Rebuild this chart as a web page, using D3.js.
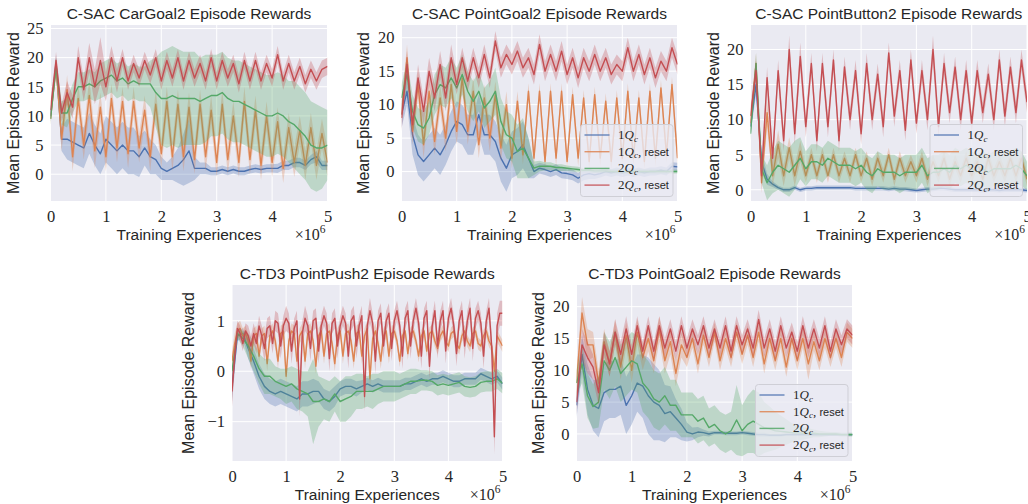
<!DOCTYPE html>
<html><head><meta charset="utf-8">
<script src="https://cdn.jsdelivr.net/npm/d3@7"></script>
<style>body{margin:0;background:#fff}svg{display:block}</style>
</head><body><svg id="c" width="1028" height="504"></svg>
<script>
// ---------- shared labels / ticks ----------
const xTicks = [0,1,2,3,4,5];
const seriesLabels = ["1Q_c","1Q_c, reset","2Q_c","2Q_c, reset"];
const titles = ["C-SAC CarGoal2 Episode Rewards","C-SAC PointGoal2 Episode Rewards","C-SAC PointButton2 Episode Rewards","C-TD3 PointPush2 Episode Rewards","C-TD3 PointGoal2 Episode Rewards"];
const xLabel = "Training Experiences";
const yLabel = "Mean Episode Reward";
const yTicks1 = [0,5,10,15,20,25];
const yTicks2 = [0,5,10,15,20];
const yTicks3 = [0,5,10,15,20];
const yTicks4 = [-1,0,1];
const yTicks5 = [0,5,10,15,20];

// ---------- Panel 1: C-SAC CarGoal2 (x step 0.1M) ----------
const cg_1Qc = [10,19,6,6,5.5,5,4.5,7,5,3.5, 6,5,4,5,4,4,3,4.5,3,2.5, 1,0.5,1,1.5,2.5,4,1,1,1,0.5, 0.5,0.8,0.5,0.8,0.5,0.5,0.8,1,0.8,1, 1,1,1.5,1.5,2,2,1.5,2.5,3,1.5, 1.5];
const cg_1Qc_ci = [1,1.5,2,3.5,3.5,3.5,3.5,3.5,3.5,3.5, 4,4,4,4,4,4,3.5,3,3,2.5, 2,1.5,2,3,4.5,5.5,2,1,1,0.7, 0.7,0.7,0.7,0.7,0.7,0.7,0.7,0.7,0.7,0.7, 0.7,0.8,0.8,0.8,0.8,0.8,0.8,0.8,1,0.8, 0.8];
const cg_1QcR = [9.5,18.5,6,14.5,3,13,5,13.5,4,11.5, 3,13,4.5,12.5,3.5,12.5,4.5,11,3,12, 3.5,12.5,3,12,3,11.5,2.5,12,3,11, 2,12,2.5,10,2,12.5,2.5,11,1.5,10, 2,9,1,8,2,7.5,1.5,8,1.5,7, 2];
const cg_1QcR_ci = [1,1.5,2,2.5,2.5,2.5,2.5,3,3,2.5, 2.5,2.5,2.5,2.5,2.5,2.5,2.5,2.5,2.5,2.5, 2.5,2.5,2.5,2.5,2.5,2.5,2.5,2.5,2.5,2.5, 2.5,2.5,2.5,2.5,2.5,2.5,2.5,2.5,2.5,2.5, 2.5,2.5,2.5,2.5,2.5,2.5,2.5,2.5,2.5,2.5, 2.5];
const cg_2Qc = [9.5,18.5,10.5,10.5,13,15,15,15.5,15,16, 16.5,17,16,16.5,15.5,16,15.5,15.5,15.5,14, 13,13,13.5,13,13,13,13,12.5,13,13.5, 13.5,14,13,12.5,12.5,12,11.5,11,10.5,10, 10,10.5,10,9,8.5,7.5,6.5,5,4.5,4.5, 5];
const cg_2Qc_ci = [1,1.5,2,2.5,2.5,2.5,2.5,2.5,2.5,3, 3,3,3,3,3,3,3,3,4,6, 8,8.5,8.5,8.5,8,8,8,7.5,7.5,7, 7,7,7,7,7,7,7,7,7,7, 7,7,7,7,7.5,7.5,7.5,7.5,7.5,7, 6];
const cg_2QcR = [11,19.5,10.5,14,11.5,20,14.5,20,15,19.5, 15,20,16,20,16,19,16.5,19.5,17,20, 16,19.5,16.5,20,16,19.5,16.5,19,16,20, 16,19.5,16.5,19,15.5,19.5,16,19.5,16,19, 16.5,20.5,16,19,16,18.5,15.5,18,16,18, 18.5];
const cg_2QcR_ci = [1.5,1.5,1.5,2,2,2,2,2.5,3,4, 2.5,2,2,1.5,1.5,1.5,1.5,1.5,1.5,1.5, 1.5,1.5,1.5,1.5,1.5,1.5,1.5,1.5,1.5,1.5, 1.5,1.5,1.5,1.5,1.5,1.5,1.5,1.5,1.5,1.5, 1.5,1.5,1.5,1.5,1.5,1.5,1.5,1.5,1.5,1.5, 1.5];

// ---------- Panel 2: C-SAC PointGoal2 ----------
const pg_1Qc = [8.5,12,5.5,2.5,1.5,2.5,3.5,2.5,4,6, 7.5,7,5.5,5.5,8.5,5.5,5.5,4.5,2,0.5, 2.5,3,4,2,0,0.5,0.3,0,0.3,-0.2, -0.3,-0.5,-1,-0.5,-0.3,-0.5,-0.3,0,-0.2,0, -0.2,0,-0.2,0,-0.2,0,0,0.2,0,0.8, 0.7];
const pg_1Qc_ci = [2,2,3,3,3,3,3,3,3,3, 3,3,3,3,3,3,3,3,3.5,3.5, 3.5,3.5,3.5,3,1,0.8,0.8,0.8,0.8,0.8, 0.8,0.8,0.8,0.8,0.8,0.6,0.6,0.6,0.6,0.6, 0.6,0.6,0.6,0.6,0.6,0.6,0.6,0.6,0.6,0.6, 0.6];
const pg_1QcR = [8.5,17,6,13,4,12,4.5,11,5,13, 6,14,6,12,4,11,5,11.5,3.5,10, 2,10.5,2.5,12,2,12,1.5,12,2,12, 1.5,11.5,2,11,1.5,11.5,2,10.5,1.5,11, 2,12,2,11,1.5,12,2,12.5,2.5,13, 2];
const pg_1QcR_ci = [1.5,2,2,2,2,2,2,2,2,2, 2,2,2,2,2,2,2,2,2,2, 1.5,1.5,1.5,1.2,1.2,1.2,1.2,1.2,1.2,1.2, 1.2,1.2,1.2,1.2,1.2,1.2,1.2,1.2,1.2,1.2, 1.2,1.2,1.2,1.2,1.2,1.2,1.2,1.2,1.2,1.2, 1.2];
const pg_2Qc = [11,14.5,9,7,6.5,8,11.5,13,12.5,14, 12.5,14.5,12,10.5,12,9.5,10.5,12,7.5,5.5, 5,3,3.5,2,0.5,0.8,0.8,0.8,0.6,0.6, 0.5,0.4,0.3,0.2,0.2,0.1,0.1,0.1,0,0, 0,0,0,0,0,0,0,0,0,0, 0];
const pg_2Qc_ci = [2,2,2.5,2.5,2.5,2.5,3,3,3,3, 3,3,3,3,3,3,3,3.5,3.5,3.5, 3.5,4,4.5,3,1,0.8,0.6,0.6,0.5,0.5, 0.4,0.4,0.4,0.3,0.3,0.3,0.3,0.3,0.3,0.3, 0.3,0.3,0.3,0.3,0.3,0.3,0.3,0.3,0.3,0.3, 0.3];
const pg_2QcR = [8,16,7,14,9,15,11,16,11,17, 13,17,13.5,17,14,17.5,14,19.5,15.5,17.5, 16,18,15.5,17,14.5,19,15,17.5,15,18, 14.5,17,14,17,15,17.5,15,17,14.5,16, 15,18.5,15,17.5,14.5,17,14,16.5,15,18.5, 16];
const pg_2QcR_ci = [2,2,2,2,2,2,2,2,2,2, 1.5,1.5,1.5,1.5,1.5,1.5,1.5,1.5,1.5,1.5, 1.5,1.5,1.5,1.5,1.5,1.5,1.5,1.5,1.5,1.5, 1.5,1.5,1.5,1.5,1.5,1.5,1.5,1.5,1.5,1.5, 1.5,1.5,1.5,1.5,1.5,1.5,1.5,1.5,1.5,1.5, 1.5];

// ---------- Panel 3: C-SAC PointButton2 ----------
const pb_1Qc = [9,15,4,1.5,0.8,0.3,0,0,0.3,0, 0.2,0.2,0.3,0.3,0.3,0.3,0.3,0.3,0.3,0.2, 0.2,0.2,0.2,0.2,0.2,0.1,0.2,0.1,0.1,0, -0.1,0,0.1,0.1,0.2,0.2,0.1,0,0,0, 0,0,-0.1,0,0,-0.1,0,0,0,0, -0.1];
const pb_1Qc_ci = [1,1.5,1.5,0.8,0.4,0.3,0.3,0.3,0.3,0.3, 0.3,0.3,0.3,0.3,0.3,0.3,0.3,0.3,0.3,0.3, 0.3,0.3,0.3,0.3,0.3,0.3,0.3,0.3,0.3,0.3, 0.3,0.3,0.3,0.3,0.3,0.3,0.3,0.3,0.3,0.3, 0.3,0.3,0.3,0.3,0.3,0.3,0.3,0.3,0.3,0.3, 0.3];
const pb_1QcR = [9.5,18,1,11,2,6.5,2,6,2,5.5, 2,5,2,5,2,5,2,4.5,2,5, 2,4.5,1.5,4.5,2,5,1.5,4.5,2,4, 2,4.5,1.5,4,2,4.5,1.5,4,2,4.5, 2,4,1.5,4.5,2,4,2,4.5,2,4.5, 1.5];
const pb_1QcR_ci = [1,1.5,1.5,2,1.5,2,1.5,1.5,1.5,1.5, 1,1,1,1,1,1,1,1,1,1, 1,1,1,1,1,1,1,1,1,1, 1,1,1,1,1,1,1,1,1,1, 1,1,1,1,1,1,1,1,1,1, 1];
const pb_2Qc = [8,18,3,1,2.5,3.5,3,2.5,3.5,4.5, 3,4,4,3.5,4.5,4,3.5,3.5,3.5,3, 3.5,2.5,2,3,2.5,2.5,2.5,2,2.5,2.5, 2.5,3.5,2,2.5,2.5,3,2.5,3.5,3,3.5, 3,2.5,3,2.5,3,3,3,3,3.5,3, 2];
const pb_2Qc_ci = [1,1.5,2,2.5,3,3.5,3.5,3.5,3.5,3, 2.5,2.5,2.5,2.5,2.5,2.5,2.5,2.5,2.5,2.5, 2.5,2.5,2.5,2.5,2.5,2.5,2.5,2.5,2.5,2.5, 2.5,2.5,2.5,2.5,2.5,2.5,2.5,2.5,2.5,2.5, 2.5,2.5,2.5,2.5,2.5,2.5,2.5,2.5,2.5,2.5, 2];
const pb_2QcR = [10.5,17,2,16,4.5,17,7,20,8,19, 9,18,7,18,9,18.5,7,17.5,10,17, 8,18,10,16.5,9,19.5,10.5,17,8.5,18.5, 9.5,17,10,20,9,18,11,17.5,10,17, 9.5,17,11,16.5,10,18.5,10.5,17.5,11,18.5, 12.5];
const pb_2QcR_ci = [1.5,1.5,1.5,1.5,1.5,1.5,1.5,2,1.5,2, 1.5,1.5,1.5,1.5,1.5,1.5,1.5,1.5,1.5,1.5, 1.5,1.5,1.5,1.5,1.5,1.5,1.5,1.5,1.5,1.5, 1.5,1.5,1.5,2,1.5,1.5,1.5,1.5,1.5,1.5, 1.5,1.5,1.5,1.5,1.5,1.5,1.5,1.5,1.5,1.5, 1.5];

// ---------- Panel 4: C-TD3 PointPush2 (red/orange x step 0.05M) ----------
const pp_1Qc = [-0.3,0.7,0.75,0.45,0.2,-0.1,-0.3,-0.4,-0.45,-0.4, -0.45,-0.5,-0.55,-0.45,-0.45,-0.4,-0.4,-0.55,-0.6,-0.5, -0.35,-0.3,-0.3,-0.35,-0.3,-0.25,-0.3,-0.25,-0.3,-0.3, -0.3,-0.3,-0.25,-0.25,-0.2,-0.15,-0.2,-0.15,-0.15,-0.1, -0.15,-0.2,-0.2,-0.15,-0.15,-0.15,-0.05,-0.1,-0.15,-0.1, -0.25];
const pp_1Qc_ci = [0.3,0.1,0.1,0.2,0.25,0.25,0.25,0.25,0.25,0.25, 0.25,0.25,0.25,0.25,0.25,0.25,0.2,0.2,0.2,0.2, 0.15,0.15,0.15,0.15,0.12,0.12,0.12,0.12,0.12,0.12, 0.12,0.12,0.12,0.12,0.12,0.12,0.12,0.12,0.12,0.12, 0.12,0.12,0.12,0.12,0.12,0.12,0.12,0.12,0.12,0.12, 0.12];
const pp_1QcR = [0.2,0.55,0.8,0.85,0.7,0.75,0.6,0.2,0.7,0.75, 0.3,0.7,0.75,0.15,0.7,0.8,0.6,0.2,0.75,0.8, -0.1,0.6,0.8,0.75,0.2,0.7,0.8,0.2,0.75,0.8, 0.6,0.1,0.7,0.8,0.3,0.75,0.8,0.55,0.15,0.7, 0.8,0.3,0.75,0.8,0.6,0.2,0.75,0.8,0.3,0.7, 0.85,-0.15,0.65,0.8,0.55,0.2,0.7,0.8,0.3,0.75, 0.8,0.6,0.2,0.7,0.8,0.35,0.75,0.8,0.6,0.3, 0.7,0.8,0.4,0.75,0.8,0.6,0.45,0.7,0.8,0.6, 0.5,0.75,0.8,0.55,0.45,0.7,0.8,0.6,0.5,0.75, 0.8,0.55,0.5,0.7,0.8,0.6,0.5,0.0,0.7,0.6, 0.5];
const pp_1QcR_ci = [0.2,0.2,0.15,0.15,0.15,0.15,0.15,0.15,0.15,0.15, 0.15,0.15,0.15,0.15,0.15,0.15,0.15,0.15,0.15,0.15, 0.2,0.15,0.15,0.15,0.15,0.15,0.15,0.15,0.15,0.15, 0.15,0.15,0.15,0.15,0.15,0.15,0.15,0.15,0.15,0.15, 0.15,0.15,0.15,0.15,0.15,0.15,0.15,0.15,0.15,0.15, 0.15,0.2,0.15,0.15,0.15,0.15,0.15,0.15,0.15,0.15, 0.12,0.12,0.12,0.12,0.12,0.12,0.12,0.12,0.12,0.12, 0.12,0.12,0.12,0.12,0.12,0.12,0.12,0.12,0.12,0.12, 0.12,0.12,0.12,0.12,0.12,0.12,0.12,0.12,0.12,0.12, 0.12,0.12,0.12,0.12,0.12,0.12,0.12,0.2,0.12,0.12, 0.12];
const pp_2Qc = [0,0.75,0.65,0.5,0.3,0.05,-0.1,-0.1,-0.2,-0.25, -0.3,-0.25,-0.35,-0.4,-0.45,-0.6,-0.6,-0.55,-0.6,-0.45, -0.6,-0.55,-0.5,-0.4,-0.4,-0.4,-0.4,-0.35,-0.3,-0.3, -0.3,-0.3,-0.25,-0.2,-0.2,-0.18,-0.18,-0.2,-0.28,-0.25, -0.28,-0.25,-0.22,-0.3,-0.32,-0.3,-0.22,-0.2,-0.2,-0.15, -0.24];
const pp_2Qc_ci = [0.1,0.1,0.15,0.25,0.3,0.3,0.35,0.35,0.3,0.3, 0.35,0.35,0.4,0.4,0.45,0.85,0.5,0.4,0.4,0.35, 0.4,0.45,0.4,0.35,0.35,0.3,0.35,0.3,0.3,0.3, 0.3,0.25,0.25,0.25,0.25,0.2,0.2,0.2,0.2,0.2, 0.2,0.2,0.2,0.2,0.2,0.2,0.2,0.2,0.2,0.2, 0.2];
const pp_2QcR = [-0.4,0.3,0.85,0.75,0.55,0.8,0.7,0.5,0.75,0.55, 0.9,0.7,0.45,0.85,0.9,0.55,1.0,0.95,0.5,0.9, 1.05,0.95,0.4,0.85,1.0,-0.55,0.75,1.05,0.9,0.45, 1.0,1.05,0.4,0.9,1.1,0.95,0.25,0.95,1.05,0.5, 0.9,1.1,0.95,0.3,1.0,1.1,0.5,0.9,1.1,-0.5, 0.9,1.2,0.95,0.2,1.0,1.15,0.5,1.0,1.15,0.45, 1.0,1.2,0.9,0.3,1.05,1.2,0.5,1.0,1.25,0.95, 0.3,1.05,1.2,0.1,0.9,1.2,0.5,1.0,1.2,0.4, 1.05,1.25,0.9,0.35,1.0,1.2,0.5,1.0,1.25,0.45, 1.05,1.2,0.95,0.3,1.0,1.25,0.5,-1.3,0.9,1.15, 1.15];
const pp_2QcR_ci = [0.3,0.25,0.15,0.15,0.15,0.15,0.2,0.2,0.2,0.2, 0.2,0.2,0.25,0.2,0.2,0.2,0.2,0.2,0.25,0.2, 0.25,0.2,0.25,0.2,0.2,0.35,0.25,0.25,0.2,0.25, 0.2,0.2,0.25,0.2,0.2,0.2,0.25,0.2,0.2,0.25, 0.2,0.2,0.2,0.25,0.2,0.2,0.25,0.2,0.2,0.3, 0.2,0.25,0.2,0.25,0.2,0.2,0.25,0.2,0.2,0.25, 0.2,0.2,0.2,0.25,0.2,0.2,0.25,0.2,0.2,0.2, 0.25,0.2,0.2,0.25,0.2,0.2,0.25,0.2,0.2,0.25, 0.2,0.2,0.2,0.25,0.2,0.2,0.25,0.2,0.2,0.25, 0.2,0.2,0.2,0.25,0.2,0.2,0.25,0.35,0.25,0.25, 0.25];

// ---------- Panel 5: C-TD3 PointGoal2 ----------
const tg_1Qc = [4.5,12.5,7,4.5,4,6.5,7,7,7.5,4.5, 6,8,7.5,6,5,4.5,3.2,3.5,2.5,1.5, 0.3,0,0.3,0.2,0,0.2,0.2,0.1,0.1,0.1, 0.2,0.1,0,-0.1,-0.1,-0.2,-0.2,-0.2,-0.1,-0.1, -0.1,-0.1,-0.1,-0.1,-0.1,-0.1,-0.1,-0.1,-0.1,-0.1, -0.1];
const tg_1Qc_ci = [2,3,4,4,4.5,4.5,4.5,4.5,4.5,4.5, 4.5,4.5,5,6,6,5.5,4.5,4,3,2.5, 1.5,1,0.8,0.5,0.4,0.3,0.3,0.3,0.3,0.3, 0.3,0.3,0.3,0.3,0.3,0.2,0.2,0.2,0.2,0.2, 0.2,0.2,0.2,0.2,0.2,0.2,0.2,0.2,0.2,0.2, 0.2];
const tg_1QcR = [8,19,14,14,8,14.5,11,16,10.5,15.5, 10,16,12,15,11.5,16.5,11.5,14.5,9.5,14, 12,15,11,15.5,12,16,11.5,15,12,16, 12.5,15.5,12,16,11,15,11.5,15,10.5,15, 11.5,15,11,14.5,11.5,15,12,15,12,16, 15];
const tg_1QcR_ci = [2,2.5,2.5,2,2,2,2,2,2,2, 2,2,2,2,2,2,2,2,2,2, 1.5,1.5,1.5,1.5,1.5,1.5,1.5,1.5,1.5,1.5, 1.5,1.5,1.5,1.5,1.5,1.5,1.5,1.5,1.5,1.5, 1.5,1.5,2.5,1.5,1.5,1.5,1.5,1.5,1.5,1.5, 1.5];
const tg_2Qc = [8,11,6,4.3,5,11.5,10,12,9.5,10.5, 11.5,11,8,7,5.5,5,6,4.5,4.5,3, 3,3,2,2.5,1,1.5,0.5,0,0.5,2.2, 0.5,1.5,2,1.5,1,0.8,0.5,0.4,0.3,0.2, 0.2,0.1,0.1,0.1,0,0,0,0,-0.1,-0.1, -0.1];
const tg_2Qc_ci = [2,3,3.5,3.5,4,4.5,4.5,4.5,4.5,4.5, 4.5,4.5,4.5,4.5,4.5,4.5,4.5,4,4,3.5, 3.5,3.5,3.5,3.5,3,3,3,3,3,5.5, 4,4.5,5,5,4,3.5,3,2.5,2,1.5, 1.2,1,0.8,0.6,0.5,0.4,0.3,0.3,0.3,0.3, 0.3];
const tg_2QcR = [5,14,12,10.5,6.5,14,11,16,12.5,16.5, 12.5,17,13,17,13,17,13.5,16.5,13,17, 13.5,16.5,14,17,13.5,16.5,13.5,17,13,17, 14,16.5,13.5,18,13.5,16.5,13,17,13.5,16, 13,17,13.5,16.5,13.5,17,13,16.5,14,16.5, 15.5];
const tg_2QcR_ci = [2,2.5,2.5,2,2,2,2,2,2,2, 1.5,1.5,1.5,1.5,1.5,1.5,1.5,1.5,1.5,1.5, 1.5,1.5,1.5,1.5,1.5,1.5,1.5,1.5,1.5,1.5, 1.5,1.5,1.5,1.5,1.5,1.5,1.5,1.5,1.5,1.5, 1.5,1.5,1.5,1.5,1.5,1.5,1.5,1.5,1.5,1.5, 1.5];

// ---------- rendering ----------
const COLORS = ["#4C72B0","#DD8452","#55A868","#C44E52"];
const SANS = "'Liberation Sans', Arial, sans-serif";
const SERIF = "'Liberation Serif', 'DejaVu Serif', serif";
const TXT = "#262626";

const panels = [
  {id:1, title:titles[0], left:50.5, right:327.5, top:25, bottom:201, ydom:[-4.6,25.6], yticks:yTicks1, ylabX:19,
   series:[[cg_1Qc,cg_1Qc_ci],[cg_1QcR,cg_1QcR_ci],[cg_2Qc,cg_2Qc_ci],[cg_2QcR,cg_2QcR_ci]], legend:false},
  {id:2, title:titles[1], left:401.5, right:677.5, top:25, bottom:201, ydom:[-4.4,21.9], yticks:yTicks2, ylabX:369,
   series:[[pg_1Qc,pg_1Qc_ci],[pg_1QcR,pg_1QcR_ci],[pg_2Qc,pg_2Qc_ci],[pg_2QcR,pg_2QcR_ci]], legend:true},
  {id:3, title:titles[2], left:750.5, right:1027, top:25, bottom:201, ydom:[-1.6,23.5], yticks:yTicks3, ylabX:719,
   series:[[pb_1Qc,pb_1Qc_ci],[pb_1QcR,pb_1QcR_ci],[pb_2Qc,pb_2Qc_ci],[pb_2QcR,pb_2QcR_ci]], legend:true},
  {id:4, title:titles[3], left:232, right:502.5, top:285, bottom:461, ydom:[-1.78,1.71], yticks:yTicks4, ylabX:194,
   series:[[pp_1Qc,pp_1Qc_ci],[pp_1QcR,pp_1QcR_ci],[pp_2Qc,pp_2Qc_ci],[pp_2QcR,pp_2QcR_ci]], legend:false},
  {id:5, title:titles[4], left:576.5, right:852.5, top:285, bottom:461, ydom:[-4.25,23.4], yticks:yTicks5, ylabX:544,
   series:[[tg_1Qc,tg_1Qc_ci],[tg_1QcR,tg_1QcR_ci],[tg_2Qc,tg_2Qc_ci],[tg_2QcR,tg_2QcR_ci]], legend:true}
];

const svg = d3.select("#c");
svg.append("rect").attr("width",1028).attr("height",504).attr("fill","#fff");
const defs = svg.append("defs");

panels.forEach(p => {
  p.series.forEach((s,k)=>{ if(s[0].length!==s[1].length) console.error("length mismatch panel",p.id,"series",k,s[0].length,s[1].length); });
  const x = d3.scaleLinear().domain([0,5]).range([p.left,p.right]);
  const y = d3.scaleLinear().domain(p.ydom).range([p.bottom,p.top]);
  const g = svg.append("g");
  g.append("rect").attr("x",p.left).attr("y",p.top).attr("width",p.right-p.left).attr("height",p.bottom-p.top).attr("fill","#EAEAF2");
  // grid
  g.append("g").selectAll("line").data(xTicks).join("line")
    .attr("x1",d=>x(d)).attr("x2",d=>x(d)).attr("y1",p.top).attr("y2",p.bottom)
    .attr("stroke","#fff").attr("stroke-width",1);
  g.append("g").selectAll("line").data(p.yticks).join("line")
    .attr("x1",p.left).attr("x2",p.right).attr("y1",d=>y(d)).attr("y2",d=>y(d))
    .attr("stroke","#fff").attr("stroke-width",1);
  // clip
  defs.append("clipPath").attr("id","clip"+p.id).append("rect")
    .attr("x",p.left).attr("y",p.top).attr("width",p.right-p.left).attr("height",p.bottom-p.top);
  const plot = g.append("g").attr("clip-path",`url(#clip${p.id})`);
  p.series.forEach((s,k)=>{
    const vals = s[0], ci = s[1], n = vals.length;
    const pts = vals.map((v,i)=>({x:5*i/(n-1), m:v, b:ci[i]}));
    plot.append("path").datum(pts)
      .attr("d", d3.area().x(d=>x(d.x)).y0(d=>y(d.m-d.b)).y1(d=>y(d.m+d.b)))
      .attr("fill",COLORS[k]).attr("fill-opacity",0.3).attr("stroke","none");
    plot.append("path").datum(pts)
      .attr("d", d3.line().x(d=>x(d.x)).y(d=>y(d.m)))
      .attr("fill","none").attr("stroke",COLORS[k]).attr("stroke-width",1.4).attr("stroke-linejoin","round");
  });
  // axes (no ticks, no spines)
  const ax = g.append("g").attr("transform",`translate(0,${p.bottom})`)
    .call(d3.axisBottom(x).tickValues(xTicks).tickSize(0).tickPadding(9.5).tickFormat(d3.format("d")));
  const ay = g.append("g").attr("transform",`translate(${p.left},0)`)
    .call(d3.axisLeft(y).tickValues(p.yticks).tickSize(0).tickPadding(7).tickFormat(d3.format("d")));
  [ax,ay].forEach(a=>{ a.select(".domain").remove();
    a.selectAll("text").attr("font-family",SERIF).attr("font-size",16.5).attr("fill",TXT); });
  const cx = (p.left+p.right)/2, cy = (p.top+p.bottom)/2;
  // title
  g.append("text").attr("x",cx).attr("y",p.top-6).attr("text-anchor","middle")
    .attr("font-family",SANS).attr("font-size",15.5).attr("fill",TXT).text(p.title);
  // x label
  g.append("text").attr("x",cx).attr("y",p.bottom+39).attr("text-anchor","middle")
    .attr("font-family",SANS).attr("font-size",15.5).attr("fill",TXT).text(xLabel);
  // multiplier
  const mt = g.append("text").attr("x",p.right-2).attr("y",p.bottom+39).attr("text-anchor","end")
    .attr("font-family",SERIF).attr("font-size",16).attr("fill",TXT);
  mt.append("tspan").text("×10");
  mt.append("tspan").attr("font-size",11.5).attr("dy",-7).text("6");
  // y label
  g.append("text").attr("transform",`translate(${p.ylabX},${cy}) rotate(-90)`).attr("text-anchor","middle")
    .attr("font-family",SANS).attr("font-size",16).attr("fill",TXT).text(yLabel);
  // legend
  if(p.legend){
    const w=92.5, h=72, bx=p.right-4.5-w, by=p.bottom-4.5-h;
    const lg = g.append("g");
    lg.append("rect").attr("x",bx).attr("y",by).attr("width",w).attr("height",h).attr("rx",3)
      .attr("fill","#EAEAF2").attr("fill-opacity",0.8).attr("stroke","#cfcfd6").attr("stroke-width",1);
    seriesLabels.forEach((lab,i)=>{
      const ry = by+10.5+16.7*i;
      lg.append("line").attr("x1",bx+4).attr("x2",bx+29).attr("y1",ry).attr("y2",ry)
        .attr("stroke",COLORS[i]).attr("stroke-width",1.4).attr("stroke-opacity",0.85);
      const t = lg.append("text").attr("x",bx+37.5).attr("y",ry+4).attr("font-family",SERIF).attr("font-size",13).attr("fill",TXT);
      const parts = lab.split(", ");
      const num = parts[0].charAt(0);
      t.append("tspan").text(num);
      t.append("tspan").attr("font-style","italic").text("Q");
      t.append("tspan").attr("font-style","italic").attr("font-size",9).attr("dy",2.5).text("c");
      if(parts.length>1){
        t.append("tspan").attr("dy",-2.5).text(", ");
        t.append("tspan").attr("font-family",SANS).attr("font-size",11).text(parts[1]);
      }
    });
  }
});
</script></body></html>
